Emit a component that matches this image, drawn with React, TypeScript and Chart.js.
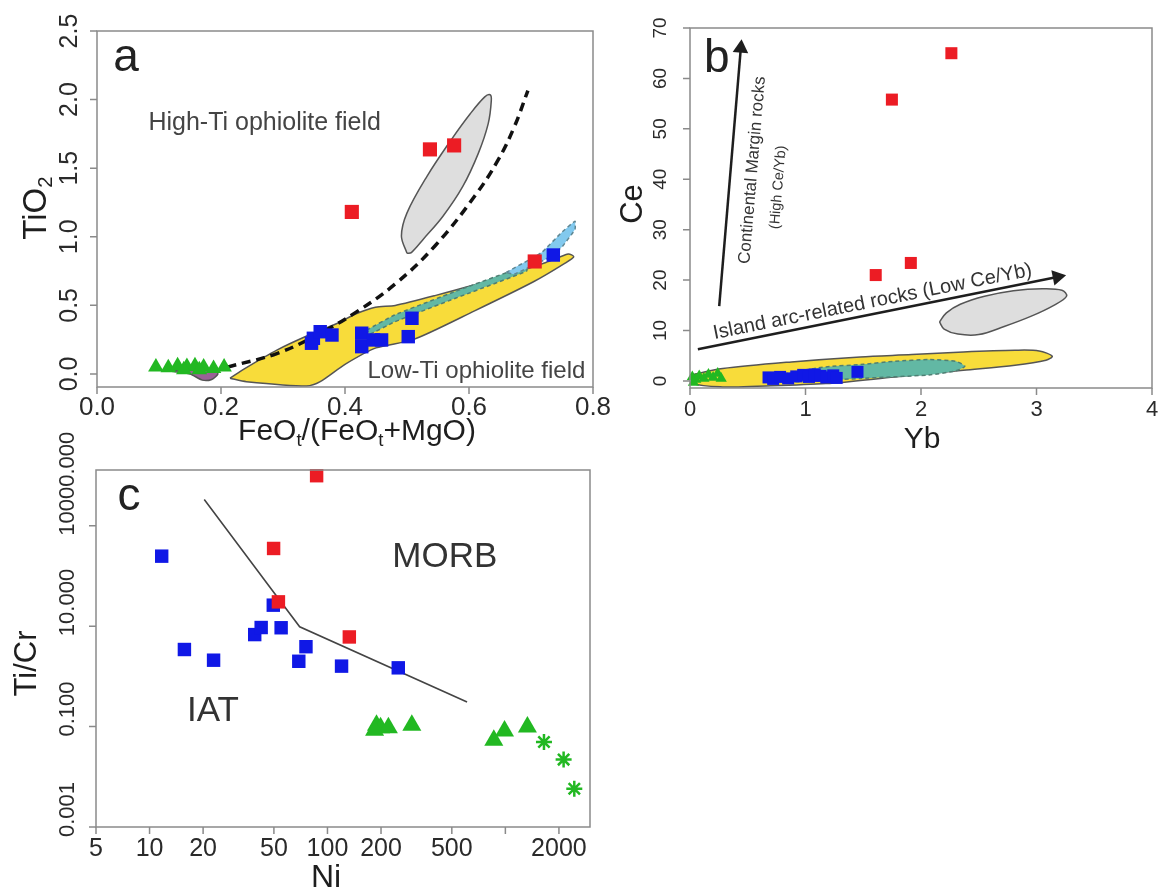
import React, { useEffect, useRef } from "react";
import { Chart, registerables } from "chart.js";

Chart.register(...registerables);

const W = 1161;
const H = 895;
const FONT = '"Liberation Sans", Arial, Helvetica, sans-serif';

const RED = "#ec1c24";
const BLUE = "#1018e6";
const GREEN = "#22b822";
const YELLOW = "#f8dc3a";
const GREY = "#dedede";
const TEAL = "#62b8a4";
const LBLUE = "#82c9ee";
const OUTLINE = "#555555";

// ---------------- Panel a : TiO2 vs FeOt/(FeOt+MgO) ----------------
const aXTicks = [0, 0.2, 0.4, 0.6, 0.8];
const aXTickLabels = ["0.0", "0.2", "0.4", "0.6", "0.8"];
const aYTicks = [0, 0.5, 1.0, 1.5, 2.0, 2.5];
const aYTickLabels = ["0.0", "0.5", "1.0", "1.5", "2.0", "2.5"];

const aRedX = [0.537, 0.576, 0.411, 0.706];
const aRedY = [1.637, 1.666, 1.181, 0.820];
const aBlueX = [0.346, 0.349, 0.360, 0.379, 0.427, 0.427, 0.446, 0.459, 0.502, 0.508, 0.736];
const aBlueY = [0.224, 0.260, 0.308, 0.284, 0.297, 0.199, 0.248, 0.248, 0.272, 0.406, 0.867];
const aGreenX = [0.095, 0.115, 0.130, 0.145, 0.158, 0.172, 0.188, 0.205, 0.140, 0.165];
const aGreenY = [0.050, 0.045, 0.060, 0.055, 0.060, 0.050, 0.040, 0.050, 0.030, 0.030];

const aCurveX = [0.210, 0.290, 0.354, 0.418, 0.481, 0.545, 0.609, 0.647, 0.673, 0.695];
const aCurveY = [0.050, 0.149, 0.282, 0.451, 0.656, 0.933, 1.295, 1.560, 1.801, 2.066];

const aYellowX = [0.2145, 0.239, 0.290, 0.341, 0.386, 0.418, 0.449, 0.481, 0.545, 0.641, 0.724, 0.760, 0.769, 0.755, 0.704, 0.609, 0.510, 0.450, 0.400, 0.360, 0.338, 0.241, 0.2145];
const aYellowY = [-0.031, 0.041, 0.174, 0.282, 0.366, 0.439, 0.487, 0.499, 0.571, 0.692, 0.813, 0.875, 0.855, 0.808, 0.672, 0.460, 0.250, 0.190, 0.070, -0.056, -0.087, -0.056, -0.031];
const aTealX = [0.435, 0.480, 0.577, 0.693, 0.693, 0.577, 0.480, 0.440, 0.435];
const aTealY = [0.320, 0.430, 0.600, 0.790, 0.750, 0.550, 0.380, 0.290, 0.320];
const aLBlueX = [0.660, 0.717, 0.749, 0.771, 0.771, 0.749, 0.724, 0.673, 0.660];
const aLBlueY = [0.740, 0.885, 1.030, 1.114, 1.054, 0.921, 0.837, 0.728, 0.740];
const aEllX = [0.500, 0.491, 0.500, 0.532, 0.571, 0.602, 0.625, 0.634, 0.636, 0.631, 0.615, 0.590, 0.558, 0.526, 0.507, 0.500];
const aEllY = [0.880, 1.005, 1.174, 1.439, 1.705, 1.897, 2.018, 2.035, 1.994, 1.825, 1.608, 1.367, 1.150, 0.981, 0.885, 0.880];
const aBlobX = [0.120, 0.150, 0.170, 0.185, 0.195, 0.190, 0.150, 0.120];
const aBlobY = [0.020, 0.000, -0.045, -0.040, 0.000, 0.030, 0.040, 0.020];

// ---------------- Panel b : Ce vs Yb ----------------
const bXTicks = [0, 1, 2, 3, 4];
const bXTickLabels = ["0", "1", "2", "3", "4"];
const bYTicks = [0, 10, 20, 30, 40, 50, 60, 70];
const bYTickLabels = ["0", "10", "20", "30", "40", "50", "60", "70"];

const bRedX = [2.263, 1.748, 1.608, 1.912];
const bRedY = [65.0, 55.8, 21.0, 23.4];
const bBlueX = [0.68, 0.72, 0.78, 0.85, 0.92, 0.98, 1.03, 1.08, 1.13, 1.18, 1.24, 1.27, 1.45];
const bBlueY = [0.7, 0.4, 0.8, 0.5, 0.9, 1.2, 0.8, 1.3, 1.0, 0.7, 1.1, 0.6, 1.8];
const bGreenX = [0.02, 0.05, 0.08, 0.12, 0.16, 0.20, 0.24, 0.27, 0.03];
const bGreenY = [0.8, 0.3, 1.0, 0.5, 1.3, 0.7, 1.5, 0.5, -0.3];

const bYellowX = [0, 0.283, 0.878, 1.474, 1.921, 2.367, 2.814, 3.023, 3.136, 3.082, 2.814, 2.367, 1.772, 1.176, 0.581, 0.283, 0.03, 0];
const bYellowY = [1.13, 2.45, 3.78, 4.77, 5.23, 5.76, 6.09, 5.96, 4.90, 4.10, 3.11, 2.12, 0.79, -0.53, -1.06, -1.19, -0.53, 1.13];
const bTealX = [0.64, 0.90, 1.176, 1.50, 1.772, 2.07, 2.30, 2.38, 2.30, 2.07, 1.474, 0.878, 0.64];
const bTealY = [0.3, 1.8, 2.78, 3.3, 3.9, 4.24, 3.9, 2.9, 2.0, 1.2, 0.5, -0.2, 0.3];
const bEllX = [2.16, 2.22, 2.34, 2.55, 2.80, 3.05, 3.22, 3.26, 3.15, 2.95, 2.72, 2.50, 2.32, 2.20, 2.16];
const bEllY = [11.7, 13.5, 15.2, 16.8, 17.9, 18.3, 18.0, 16.8, 15.0, 12.8, 10.8, 9.2, 9.3, 10.3, 11.7];
const bArrowUpX = [0.253, 0.44];
const bArrowUpY = [14.84, 66.0];
const bArrowRightX = [0.068, 3.18];
const bArrowRightY = [6.29, 20.6];

// ---------------- Panel c : Ti/Cr vs Ni ----------------
const cXTicks = [5, 10, 20, 50, 100, 200, 500, 1000, 2000];
const cXTickLabels = ["5", "10", "20", "50", "100", "200", "500", "", "2000"];
const cYTicks = [0.001, 0.1, 10, 1000];
const cYTickLabels = ["0.001", "0.100", "10.000", "10000.000"];

const cBlueX = [11.7, 15.7, 22.9, 39, 42.4, 49.6, 54.9, 69, 75.7, 120, 250];
const cBlueY = [248, 3.43, 2.1, 6.8, 9.4, 26.2, 9.3, 2.0, 3.9, 1.6, 1.48];
const cRedX = [86.9, 49.8, 53, 132.7];
const cRedY = [9930, 353, 30.5, 6.1];
const cTriX = [188.6, 198.8, 220, 184, 298, 861, 989, 1330];
const cTriY = [0.106, 0.095, 0.095, 0.0845, 0.106, 0.0534, 0.082, 0.0984];
const cStarX = [1648, 2125, 2440];
const cStarY = [0.0494, 0.022, 0.0058];
const cLineX = [20.3, 48.9, 69.8, 609];
const cLineY = [3350, 52, 9.7, 0.31];

// ---------------- helpers ----------------
type Run = { t: string; sub?: boolean };

const pts = (xs: number[], ys: number[]) => xs.map((x, i) => ({ x, y: ys[i] }));

function drawRuns(
  ctx: CanvasRenderingContext2D,
  runs: Run[],
  x: number,
  y: number,
  size: number,
  rot: number,
  color: string,
  align: "center" | "left" = "center"
) {
  ctx.save();
  ctx.translate(x, y);
  ctx.rotate((rot * Math.PI) / 180);
  ctx.fillStyle = color;
  ctx.textBaseline = "middle";
  ctx.textAlign = "left";
  const parts = runs.map((r) => {
    const s = r.sub ? size * 0.62 : size;
    ctx.font = `${s}px ${FONT}`;
    return { r, s, w: ctx.measureText(r.t).width };
  });
  const total = parts.reduce((a, p) => a + p.w, 0);
  let cx = align === "center" ? -total / 2 : 0;
  for (const p of parts) {
    ctx.font = `${p.s}px ${FONT}`;
    ctx.fillText(p.r.t, cx, p.r.sub ? size * 0.28 : 0);
    cx += p.w;
  }
  ctx.restore();
}

type Txt = { runs: Run[]; x: number; y: number; size: number; rot?: number; color?: string };

type PanelCfg = {
  name: string;
  area: { l: number; t: number; r: number; b: number };
  xType: "linear" | "logarithmic";
  yType: "linear" | "logarithmic";
  xMin: number;
  xMax: number;
  yMin: number;
  yMax: number;
  xTicks: number[];
  xTickLabels: string[];
  yTicks: number[];
  yTickLabels: string[];
  xTickFont: number;
  yTickFont: number;
  xLabelGap: number;
  yLabelGap: number;
  yLabelShift: number;
  yLabelAlign: "center" | "left";
  xTitle: { runs: Run[]; size: number; dx: number; dy: number };
  yTitle: { runs: Run[]; size: number; dx: number; dy: number };
  texts: Txt[];
  datasets: any[];
};

function makeDeco(cfg: PanelCfg) {
  return {
    id: "deco_" + cfg.name,
    afterDraw(chart: any) {
      const ctx: CanvasRenderingContext2D = chart.ctx;
      const { left, right, top, bottom } = chart.chartArea;
      const xs = chart.scales.x;
      const ys = chart.scales.y;
      ctx.save();
      ctx.strokeStyle = "#8a8a8a";
      ctx.lineWidth = 1.5;
      ctx.strokeRect(left, top, right - left, bottom - top);
      ctx.beginPath();
      cfg.xTicks.forEach((v) => {
        const p = xs.getPixelForValue(v);
        ctx.moveTo(p, bottom);
        ctx.lineTo(p, bottom + 7);
      });
      cfg.yTicks.forEach((v) => {
        const p = ys.getPixelForValue(v);
        ctx.moveTo(left, p);
        ctx.lineTo(left - 7, p);
      });
      ctx.stroke();
      ctx.restore();

      cfg.xTicks.forEach((v, i) => {
        const lbl = cfg.xTickLabels[i];
        if (!lbl) return;
        drawRuns(ctx, [{ t: lbl }], xs.getPixelForValue(v), bottom + cfg.xLabelGap, cfg.xTickFont, 0, "#2a2a2a");
      });
      cfg.yTicks.forEach((v, i) => {
        const lbl = cfg.yTickLabels[i];
        if (!lbl) return;
        drawRuns(
          ctx,
          [{ t: lbl }],
          left - cfg.yLabelGap,
          ys.getPixelForValue(v) + cfg.yLabelShift,
          cfg.yTickFont,
          -90,
          "#2a2a2a",
          cfg.yLabelAlign
        );
      });
      const cxm = (left + right) / 2;
      const cym = (top + bottom) / 2;
      drawRuns(ctx, cfg.xTitle.runs, cxm + cfg.xTitle.dx, bottom + cfg.xTitle.dy, cfg.xTitle.size, 0, "#1e1e1e");
      drawRuns(ctx, cfg.yTitle.runs, left + cfg.yTitle.dx, cym + cfg.yTitle.dy, cfg.yTitle.size, -90, "#1e1e1e");
      cfg.texts.forEach((t) => {
        drawRuns(ctx, t.runs, xs.getPixelForValue(t.x), ys.getPixelForValue(t.y), t.size, t.rot || 0, t.color || "#333");
      });
    },
  };
}

const poly = (xs: number[], ys: number[], fillColor: string, border: string, order: number, extra: any = {}) => ({
  data: pts(xs, ys),
  showLine: true,
  fill: "shape",
  backgroundColor: fillColor,
  borderColor: border,
  borderWidth: 1.5,
  pointRadius: 0,
  tension: 0.25,
  order,
  ...extra,
});

const marks = (xs: number[], ys: number[], style: string, radius: number, color: string, order: number, extra: any = {}) => ({
  data: pts(xs, ys),
  pointStyle: style,
  pointRadius: radius,
  backgroundColor: color,
  pointBackgroundColor: color,
  pointBorderColor: color,
  borderColor: color,
  pointBorderWidth: 0,
  clip: false,
  order,
  ...extra,
});

// ---------------- panel configs ----------------
const panelA: PanelCfg = {
  name: "a",
  area: { l: 97, t: 31, r: 593, b: 387 },
  xType: "linear",
  yType: "linear",
  xMin: 0,
  xMax: 0.8,
  yMin: -0.095,
  yMax: 2.5,
  xTicks: aXTicks,
  xTickLabels: aXTickLabels,
  yTicks: aYTicks,
  yTickLabels: aYTickLabels,
  xTickFont: 26,
  yTickFont: 25,
  xLabelGap: 21,
  yLabelGap: 27,
  yLabelShift: 0,
  yLabelAlign: "center",
  xTitle: { runs: [{ t: "FeO" }, { t: "t", sub: true }, { t: "/(FeO" }, { t: "t", sub: true }, { t: "+MgO)" }], size: 30, dx: 12, dy: 45 },
  yTitle: { runs: [{ t: "TiO" }, { t: "2", sub: true }], size: 33, dx: -60, dy: -1 },
  texts: [
    { runs: [{ t: "a" }], x: 0.047, y: 2.303, size: 46, color: "#222" },
    { runs: [{ t: "High-Ti ophiolite field" }], x: 0.2705, y: 1.83, size: 25, color: "#444" },
    { runs: [{ t: "Low-Ti ophiolite field" }], x: 0.612, y: 0.02, size: 24, color: "#444" },
  ],
  datasets: [
    marks(aRedX, aRedY, "rect", 10, RED, 1),
    marks(aBlueX, aBlueY, "rect", 9.5, BLUE, 2),
    marks(aGreenX, aGreenY, "triangle", 9, GREEN, 3),
    {
      data: pts(aCurveX, aCurveY),
      showLine: true,
      fill: false,
      borderColor: "#111",
      borderWidth: 3.5,
      borderDash: [9, 6],
      pointRadius: 0,
      tension: 0.4,
      order: 10,
    },
    poly(aBlobX, aBlobY, "#9a6296", "#555", 12),
    poly(aEllX, aEllY, GREY, OUTLINE, 15, { tension: 0.35 }),
    poly(aLBlueX, aLBlueY, LBLUE, "#5f8793", 16, { borderDash: [4, 3], tension: 0.1 }),
    poly(aTealX, aTealY, TEAL, "#4f7f74", 17, { borderDash: [4, 3], tension: 0.1 }),
    poly(aYellowX, aYellowY, YELLOW, OUTLINE, 20),
  ],
};

const panelB: PanelCfg = {
  name: "b",
  area: { l: 690, t: 28, r: 1154, b: 388 },
  xType: "linear",
  yType: "linear",
  xMin: 0,
  xMax: 4,
  yMin: -1.4,
  yMax: 70,
  xTicks: bXTicks,
  xTickLabels: bXTickLabels,
  yTicks: bYTicks,
  yTickLabels: bYTickLabels,
  xTickFont: 22,
  yTickFont: 19,
  xLabelGap: 22,
  yLabelGap: 29,
  yLabelShift: 0,
  yLabelAlign: "center",
  xTitle: { runs: [{ t: "Yb" }], size: 30, dx: 1, dy: 52 },
  yTitle: { runs: [{ t: "Ce" }], size: 31, dx: -57, dy: -4 },
  texts: [
    { runs: [{ t: "b" }], x: 0.233, y: 63.7, size: 46, color: "#222" },
    { runs: [{ t: "Continental Margin rocks" }], x: 0.541, y: 41.8, size: 17, rot: -85.2, color: "#333" },
    { runs: [{ t: "(High Ce/Yb)" }], x: 0.764, y: 38.4, size: 14.5, rot: -85.2, color: "#333" },
    { runs: [{ t: "Island arc-related rocks (Low Ce/Yb)" }], x: 1.581, y: 15.7, size: 20, rot: -11.3, color: "#333" },
  ],
  datasets: [
    marks(bRedX, bRedY, "rect", 8.5, RED, 1),
    marks(bBlueX, bBlueY, "rect", 8.5, BLUE, 2),
    marks(bGreenX, bGreenY, "triangle", 6.5, GREEN, 3),
    {
      data: pts(bArrowUpX, bArrowUpY),
      showLine: true,
      fill: false,
      borderColor: "#1e1e1e",
      borderWidth: 2.5,
      pointStyle: "triangle",
      pointRadius: [0, 9],
      pointRotation: [0, 4.8],
      pointBackgroundColor: "#1e1e1e",
      pointBorderColor: "#1e1e1e",
      pointBorderWidth: 0,
      clip: false,
      order: 5,
    },
    {
      data: pts(bArrowRightX, bArrowRightY),
      showLine: true,
      fill: false,
      borderColor: "#1e1e1e",
      borderWidth: 2.5,
      pointStyle: "triangle",
      pointRadius: [0, 9],
      pointRotation: [0, 78.7],
      pointBackgroundColor: "#1e1e1e",
      pointBorderColor: "#1e1e1e",
      pointBorderWidth: 0,
      clip: false,
      order: 5,
    },
    poly(bEllX, bEllY, GREY, OUTLINE, 15, { tension: 0.35 }),
    poly(bTealX, bTealY, TEAL, "#4f7f74", 17, { borderDash: [4, 3], tension: 0.2 }),
    poly(bYellowX, bYellowY, YELLOW, OUTLINE, 20, { tension: 0.3 }),
  ],
};

const panelC: PanelCfg = {
  name: "c",
  area: { l: 96, t: 470, r: 590, b: 827 },
  xType: "logarithmic",
  yType: "logarithmic",
  xMin: 5,
  xMax: 2990,
  yMin: 0.001,
  yMax: 12900,
  xTicks: cXTicks,
  xTickLabels: cXTickLabels,
  yTicks: cYTicks,
  yTickLabels: cYTickLabels,
  xTickFont: 25,
  yTickFont: 22,
  xLabelGap: 22,
  yLabelGap: 28,
  yLabelShift: 10,
  yLabelAlign: "left",
  xTitle: { runs: [{ t: "Ni" }], size: 32, dx: -17, dy: 51 },
  yTitle: { runs: [{ t: "Ti/Cr" }], size: 31, dx: -69, dy: 15 },
  texts: [
    { runs: [{ t: "c" }], x: 7.66, y: 3750, size: 46, color: "#222" },
    { runs: [{ t: "MORB" }], x: 457, y: 239, size: 35, color: "#333" },
    { runs: [{ t: "IAT" }], x: 22.7, y: 0.205, size: 35, color: "#333" },
  ],
  datasets: [
    marks(cRedX, cRedY, "rect", 9.5, RED, 1),
    marks(cBlueX, cBlueY, "rect", 9.5, BLUE, 2),
    marks(cTriX, cTriY, "triangle", 11, GREEN, 3),
    marks(cStarX, cStarY, "star", 8, GREEN, 3, { pointBorderWidth: 2.5 }),
    {
      data: pts(cLineX, cLineY),
      showLine: true,
      fill: false,
      borderColor: "#444",
      borderWidth: 1.6,
      pointRadius: 0,
      tension: 0,
      order: 10,
    },
  ],
};

function Panel({ cfg }: { cfg: PanelCfg }) {
  const ref = useRef<HTMLCanvasElement>(null);
  useEffect(() => {
    const canvas = ref.current;
    if (!canvas) return;
    const chart = new Chart(canvas, {
      type: "scatter",
      data: { datasets: cfg.datasets },
      options: {
        responsive: false,
        animation: false,
        devicePixelRatio: 1,
        events: [],
        layout: {
          padding: { left: cfg.area.l, top: cfg.area.t, right: W - cfg.area.r, bottom: H - cfg.area.b },
        },
        plugins: { legend: { display: false }, tooltip: { enabled: false } },
        scales: {
          x: { type: cfg.xType, min: cfg.xMin, max: cfg.xMax, display: false },
          y: { type: cfg.yType, min: cfg.yMin, max: cfg.yMax, display: false },
        },
      } as any,
      plugins: [makeDeco(cfg) as any],
    });
    return () => chart.destroy();
  }, [cfg]);
  return <canvas ref={ref} width={W} height={H} style={{ position: "absolute", left: 0, top: 0 }} />;
}

export default function App() {
  return (
    <div style={{ position: "absolute", left: 0, top: 0, width: W, height: H, background: "#fff", overflow: "hidden" }}>
      <Panel cfg={panelA} />
      <Panel cfg={panelB} />
      <Panel cfg={panelC} />
    </div>
  );
}
